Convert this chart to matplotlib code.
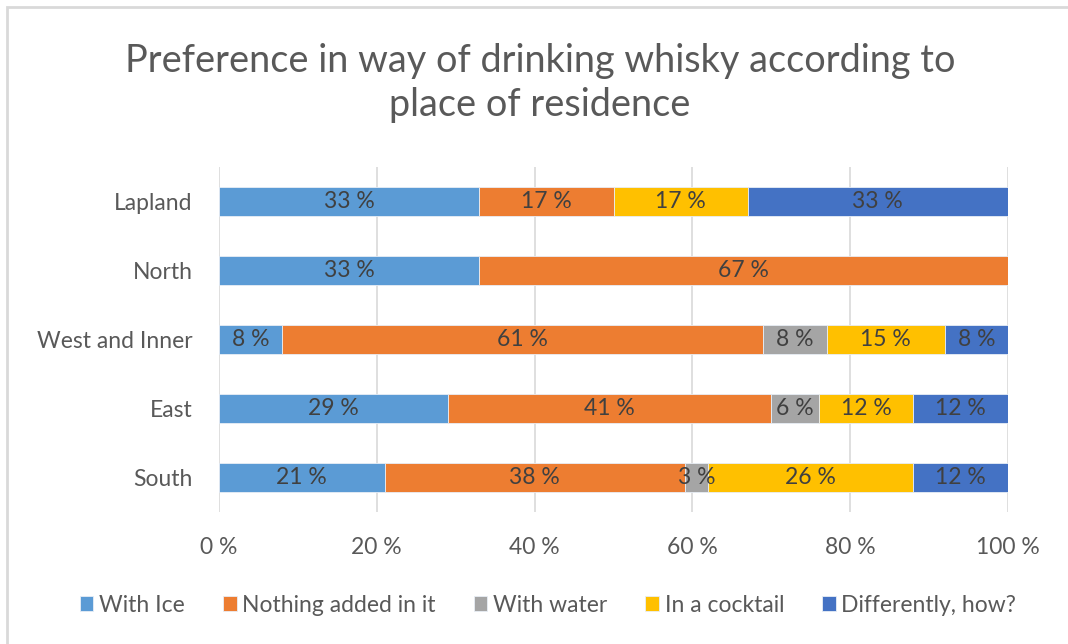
import matplotlib
matplotlib.use("Agg")
import matplotlib.pyplot as plt
from matplotlib.patches import Rectangle
import numpy as np

regions = ["Lapland", "North", "West and Inner", "East", "South"]
series = ["With Ice", "Nothing added in it", "With water", "In a cocktail", "Differently, how?"]
with_ice = [33, 33, 8, 29, 21]
nothing_added = [17, 67, 61, 41, 38]
with_water = [0, 0, 8, 6, 3]
in_cocktail = [17, 0, 15, 12, 26]
differently = [33, 0, 8, 12, 12]
x_ticks = [0, 20, 40, 60, 80, 100]

colors = ["#5B9BD5", "#ED7D31", "#A5A5A5", "#FFC000", "#4472C4"]
values = [with_ice, nothing_added, with_water, in_cocktail, differently]

FONT = ["Lato", "DejaVu Sans"]
plt.rcParams["font.family"] = FONT

W, H = 1068, 644
fig = plt.figure(figsize=(W / 100, H / 100), dpi=100)
ax = fig.add_axes([219 / W, 1 - 512 / H, 789 / W, 345 / H])

# light frame around the chart area (top and left edges visible)
fig.patches.append(Rectangle((7 / W, -0.05), 1.2, 1 - 7 / H + 0.05,
                             transform=fig.transFigure, fill=False,
                             edgecolor="#D9D9D9", linewidth=2.0, zorder=0))

y = np.arange(len(regions))
left = np.zeros(len(regions))
for name, vals, col in zip(series, values, colors):
    vals = np.array(vals, dtype=float)
    bars = ax.barh(y, vals, left=left, height=0.41, color=col, label=name,
                   edgecolor="#E8EEF6", linewidth=0.6, zorder=3)
    for b, v in zip(bars, vals):
        if v > 0:
            ax.text(b.get_x() + b.get_width() / 2, b.get_y() + b.get_height() / 2,
                    f"{int(v)} %", ha="center", va="center", fontsize=16.5,
                    color="#404040", zorder=4)
    left += vals

ax.set_xlim(0, 100)
ax.set_ylim(len(regions) - 0.5, -0.5)
ax.set_yticks(y)
ax.set_yticklabels(regions, fontsize=16.5, color="#595959")
ax.set_xticks(x_ticks)
ax.set_xticklabels([f"{t} %" for t in x_ticks], fontsize=16.5, color="#595959")
ax.tick_params(length=0)
ax.tick_params(axis="y", pad=19)
ax.tick_params(axis="x", pad=18)
ax.grid(axis="x", color="#D9D9D9", linewidth=1.2, zorder=0)
for s in ax.spines.values():
    s.set_visible(False)

fig.text(540 / W, 1 - 83 / H,
         "Preference in way of drinking whisky according to\nplace of residence",
         ha="center", va="center", fontsize=27.3, color="#595959", linespacing=1.3)

fig.legend(loc="center", bbox_to_anchor=(548 / W, 1 - 605 / H), ncol=5,
           frameon=False, fontsize=16.5, handlelength=0.6, handleheight=0.6,
           handletextpad=0.25, columnspacing=1.65, labelcolor="#595959")

fig.savefig("out.png", dpi=100)
